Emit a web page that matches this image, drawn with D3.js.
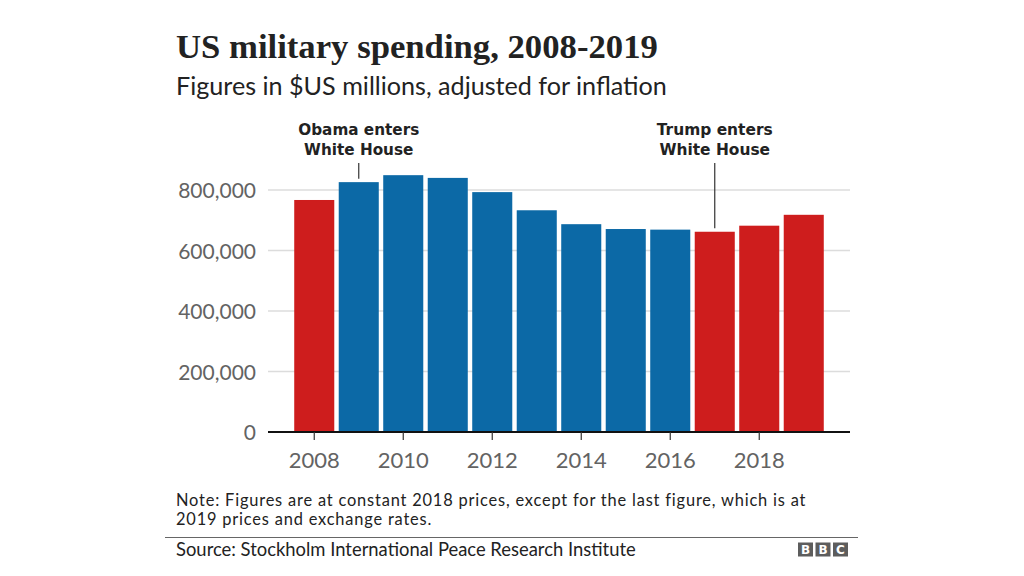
<!DOCTYPE html>
<html>
<head>
<meta charset="utf-8">
<script src="https://cdn.jsdelivr.net/npm/d3@7"></script>
<style>
  html, body { margin: 0; padding: 0; background: #fff; }
  svg { display: block; }
</style>
</head>
<body>
<svg id="chart" width="1024" height="576"></svg>
<script>
// ---- data ----
const years = [2008, 2009, 2010, 2011, 2012, 2013, 2014, 2015, 2016, 2017, 2018, 2019];
const spending = [767000, 826000, 849000, 840000, 793000, 733000, 687000, 671000, 669000, 662000, 682000, 718000];
const party = ["R", "D", "D", "D", "D", "D", "D", "D", "D", "R", "R", "R"];
const yTicks = [0, 200000, 400000, 600000, 800000];
const xTickYears = [2008, 2010, 2012, 2014, 2016, 2018];
const annotations = [
  { year: 2009, lines: ["Obama enters", "White House"] },
  { year: 2017, lines: ["Trump enters", "White House"] }
];
const titleText = "US military spending, 2008-2019";
const subtitleText = "Figures in $US millions, adjusted for inflation";
const noteLines = ["Note: Figures are at constant 2018 prices, except for the last figure, which is at",
                   "2019 prices and exchange rates."];
const sourceText = "Source: Stockholm International Peace Research Institute";

// ---- style ----
const SANS = "Lato, 'Open Sans', sans-serif";
const SERIF = "'Liberation Serif', 'DejaVu Serif', serif";
const colors = { R: "#ce1d1d", D: "#0c69a6" };
const svg = d3.select("#chart");

const x = d3.scaleBand().domain(years).range([292, 826]).paddingInner(0.1).paddingOuter(0.05);
const y = d3.scaleLinear().domain([0, 800000]).range([432, 190]);

function txt(parent, fs, opts = {}) {
  return parent.append("text")
    .style("font-family", opts.family || SANS)
    .style("font-weight", opts.weight || "normal")
    .style("font-size", fs + "px")
    .attr("fill", opts.fill || "#222");
}
function fitSize(sel, target, maxFs) {
  const w = sel.node().getComputedTextLength();
  const fs = parseFloat(sel.style("font-size"));
  let nf = fs * target / w;
  if (maxFs && nf > maxFs) nf = maxFs;
  sel.style("font-size", nf.toFixed(2) + "px");
  return nf;
}
function fitSpacing(sel, target) {
  const w = sel.node().getComputedTextLength();
  const n = sel.text().length;
  const s = Math.max(0, (target - w) / n);
  sel.style("letter-spacing", s.toFixed(3) + "px");
  return s;
}

// Title
const title = txt(svg, 28, { family: SERIF, weight: "bold" }).attr("x", 176).attr("y", 58).text(titleText);
fitSize(title, 482);

const sub = txt(svg, 23).attr("x", 176).attr("y", 95).text(subtitleText);
fitSize(sub, 491);

// gridlines
svg.append("g").selectAll("line").data(yTicks.filter(d => d > 0)).join("line")
  .attr("x1", 268).attr("x2", 850)
  .attr("y1", d => y(d)).attr("y2", d => y(d))
  .attr("stroke", "#dcdcdc").attr("stroke-width", 1.5);

// y labels
yTicks.forEach(d => {
  txt(svg, 21, { fill: "#636363" }).attr("x", 256).attr("y", y(d) + 8)
    .attr("text-anchor", "end").text(d3.format(",")(d));
});

// bars
svg.append("g").selectAll("rect").data(years).join("rect")
  .attr("x", d => x(d)).attr("width", x.bandwidth())
  .attr("y", (d, i) => y(spending[i]))
  .attr("height", (d, i) => y(0) - y(spending[i]))
  .attr("fill", (d, i) => colors[party[i]]);

// x axis
svg.append("line").attr("x1", 268).attr("x2", 850).attr("y1", y(0)).attr("y2", y(0))
  .attr("stroke", "#111").attr("stroke-width", 2);
xTickYears.forEach(d => {
  const cx = x(d) + x.bandwidth() / 2;
  svg.append("line").attr("x1", cx).attr("x2", cx).attr("y1", y(0)).attr("y2", y(0) + 8)
    .attr("stroke", "#333").attr("stroke-width", 1.2);
  txt(svg, 22, { fill: "#636363" }).attr("x", cx).attr("y", 468)
    .attr("text-anchor", "middle").text(d);
});

// annotations
annotations.forEach(a => {
  const i = years.indexOf(a.year);
  const cx = x(a.year) + x.bandwidth() / 2;
  const first = txt(svg, 16, { family: "'DejaVu Sans', sans-serif", weight: "bold" })
    .attr("x", cx).attr("y", 135).attr("text-anchor", "middle").text(a.lines[0]);
  const fs = fitSize(first, a.year === 2009 ? 121 : 116, 16.3);
  txt(svg, fs.toFixed(2), { family: "'DejaVu Sans', sans-serif", weight: "bold" })
    .attr("x", cx).attr("y", 154.5).attr("text-anchor", "middle").text(a.lines[1]);
  svg.append("line").attr("x1", cx).attr("x2", cx)
    .attr("y1", 163).attr("y2", y(spending[i]) - 3.5)
    .attr("stroke", "#333").attr("stroke-width", 1.2);
});

// note
const n1 = txt(svg, 16).attr("x", 176).attr("y", 505.5).text(noteLines[0]);
const nfs = fitSize(n1, 630, 16.4);
const ls = fitSpacing(n1, 630);
txt(svg, nfs.toFixed(2)).attr("x", 176).attr("y", 525.2).style("letter-spacing", ls.toFixed(3) + "px").text(noteLines[1]);

svg.append("line").attr("x1", 165).attr("x2", 858).attr("y1", 537.5).attr("y2", 537.5)
  .attr("stroke", "#666").attr("stroke-width", 1.2);

const src = txt(svg, 17).attr("x", 176).attr("y", 556).text(sourceText);
fitSize(src, 460);

// BBC logo
["B", "B", "C"].forEach((ch, k) => {
  const bx = 798 + k * 17.5;
  svg.append("rect").attr("x", bx).attr("y", 542.5).attr("width", 15).attr("height", 14).attr("fill", "#5d5d5d");
  txt(svg, 12, { family: "'DejaVu Sans', sans-serif", weight: "bold", fill: "#fff" })
    .attr("x", bx + 7.5).attr("y", 554).attr("text-anchor", "middle").text(ch);
});
</script>
</body>
</html>
